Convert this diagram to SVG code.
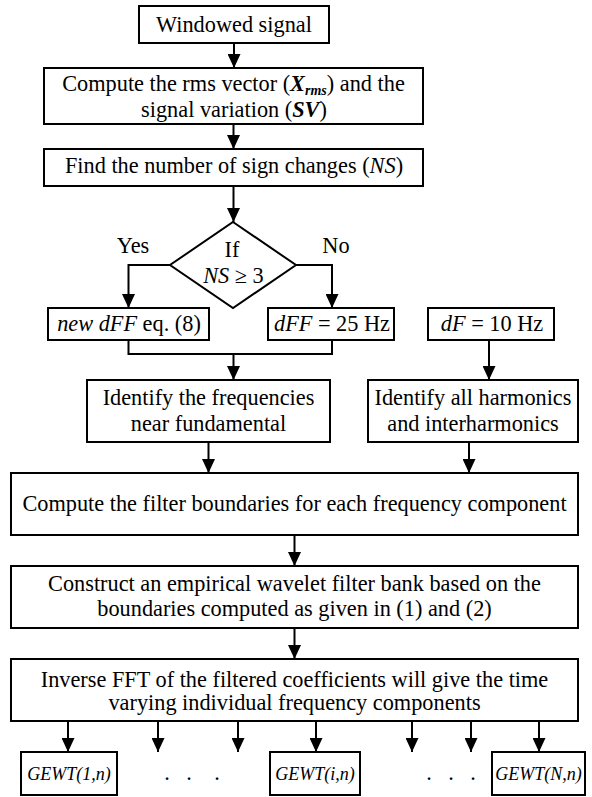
<svg xmlns="http://www.w3.org/2000/svg" width="592" height="797" viewBox="0 0 592 797">
<defs>
<marker id="ah" markerUnits="userSpaceOnUse" markerWidth="14" markerHeight="13" refX="14" refY="6.5" orient="auto">
<path d="M0,0 L14,6.5 L0,13 z" fill="#000"/>
</marker>
<style>
.box{fill:#fff;stroke:#000;stroke-width:2}
.t{font-family:"Liberation Serif","Times New Roman",serif;font-size:22.3px;fill:#000;text-anchor:middle}
.s{font-family:"Liberation Serif","Times New Roman",serif;font-size:18px;font-style:italic;fill:#000;text-anchor:middle}
.c{fill:none;stroke:#000;stroke-width:2}
.a{fill:none;stroke:#000;stroke-width:2;marker-end:url(#ah)}
</style>
</defs>
<rect width="592" height="797" fill="#fff"/>
<g id="connectors">
<path class="a" d="M234,43 V68"/>
<path class="a" d="M233.5,124 V149"/>
<path class="a" d="M233.5,186 V222"/>
<path class="a" d="M170,265 H128.5 V308"/>
<path class="a" d="M296,265 H332 V308"/>
<path class="c" d="M128.5,340 V354 H332 V340"/>
<path class="a" d="M233.5,354 V380"/>
<path class="a" d="M489,340 V380"/>
<path class="a" d="M208.5,442 V473"/>
<path class="a" d="M469,442 V473"/>
<path class="a" d="M294.5,535 V566"/>
<path class="a" d="M294.5,628 V659"/>
<path class="a" d="M68,721 V752"/>
<path class="a" d="M158,721 V752"/>
<path class="a" d="M238,721 V752"/>
<path class="a" d="M316,721 V752"/>
<path class="a" d="M412,721 V752"/>
<path class="a" d="M471,721 V752"/>
<path class="a" d="M539,721 V752"/>
</g>
<g id="n-windowed"><rect class="box" x="139" y="6" width="190" height="37"/><text class="t" x="234" y="32">Windowed signal</text></g>
<g id="n-rms"><rect class="box" x="44" y="68" width="379" height="56"/>
<text class="t" x="233.5" y="91">Compute the rms vector (<tspan font-weight="bold" font-style="italic">X</tspan><tspan font-weight="bold" font-style="italic" font-size="14" dy="4">rms</tspan><tspan dy="-4">) and the</tspan></text>
<text class="t" x="234" y="117">signal variation (<tspan font-weight="bold" font-style="italic">SV</tspan>)</text></g>
<g id="n-ns"><rect class="box" x="44" y="149" width="379" height="37"/><text class="t" x="234" y="173">Find the number of sign changes (<tspan font-style="italic">NS</tspan>)</text></g>
<g id="n-if"><path class="box" d="M233,222 L296,265 L233,308 L170,265 z"/>
<text class="t" x="232" y="257">If</text>
<text class="t" x="233.5" y="283"><tspan font-style="italic">NS</tspan> ≥ 3</text></g>
<g id="l-yes"><text class="t" x="133" y="253">Yes</text></g>
<g id="l-no"><text class="t" x="336" y="253">No</text></g>
<g id="n-newdff"><rect class="box" x="48" y="308" width="161" height="32"/><text class="t" x="129" y="331"><tspan font-style="italic">new dFF</tspan> eq. (8)</text></g>
<g id="n-dff25"><rect class="box" x="268" y="308" width="126" height="32"/><text class="t" x="332" y="331"><tspan font-style="italic">dFF</tspan> = 25 Hz</text></g>
<g id="n-df10"><rect class="box" x="428" y="308" width="126" height="32"/><text class="t" x="492" y="331"><tspan font-style="italic">dF</tspan> = 10 Hz</text></g>
<g id="n-near"><rect class="box" x="87" y="380" width="243" height="62"/>
<text class="t" x="208.5" y="405">Identify the frequencies</text>
<text class="t" x="208.5" y="431">near fundamental</text></g>
<g id="n-harm"><rect class="box" x="368" y="380" width="210" height="62"/>
<text class="t" x="473" y="405">Identify all harmonics</text>
<text class="t" x="473" y="431">and interharmonics</text></g>
<g id="n-bound"><rect class="box" x="11" y="473" width="567" height="62"/>
<text class="t" x="294.5" y="511">Compute the filter boundaries for each frequency component</text></g>
<g id="n-bank"><rect class="box" x="11" y="566" width="567" height="62"/>
<text class="t" x="294.5" y="591">Construct an empirical wavelet filter bank based on the</text>
<text class="t" x="294.5" y="616">boundaries computed as given in (1) and (2)</text></g>
<g id="n-ifft"><rect class="box" x="11" y="659" width="567" height="62"/>
<text class="t" x="294.5" y="687">Inverse FFT of the filtered coefficients will give the time</text>
<text class="t" x="294.5" y="710">varying individual frequency components</text></g>
<g id="n-g1"><rect class="box" x="21" y="752" width="96" height="43"/><text class="s" x="69" y="780">GEWT(1,n)</text></g>
<g id="n-gi"><rect class="box" x="270" y="752" width="90" height="43"/><text class="s" x="315" y="780">GEWT(i,n)</text></g>
<g id="n-gn"><rect class="box" x="492" y="752" width="93" height="43"/><text class="s" x="538.5" y="780">GEWT(N,n)</text></g>
<g id="dots">
<text class="t" x="167" y="780">.</text><text class="t" x="189" y="780">.</text><text class="t" x="217" y="780">.</text>
<text class="t" x="429" y="780">.</text><text class="t" x="451" y="780">.</text><text class="t" x="473" y="780">.</text>
</g>
</svg>
